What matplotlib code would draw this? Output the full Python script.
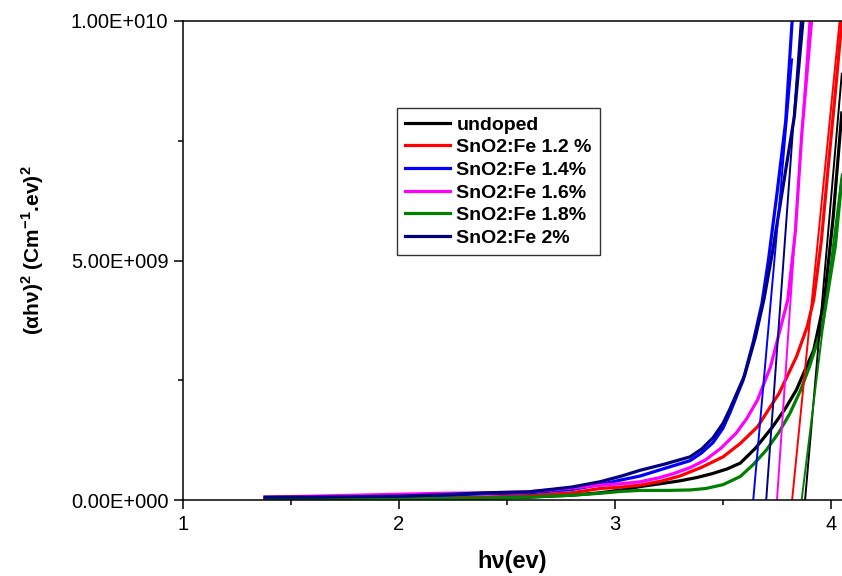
import numpy as np
import matplotlib
matplotlib.use("Agg")
import matplotlib.pyplot as plt
from matplotlib.ticker import MultipleLocator

plt.rcParams['font.family'] = ['Liberation Sans', 'DejaVu Sans']
plt.rcParams['mathtext.fontset'] = 'custom'
plt.rcParams['mathtext.rm'] = 'Liberation Sans:bold'
plt.rcParams['mathtext.bf'] = 'Liberation Sans:bold'

# (alpha h nu)^2 in units of 1e9
x_low = [1.38, 1.6, 1.8, 2.0, 2.2, 2.4, 2.6, 2.8, 2.93]

x_undoped = x_low + [3.03, 3.116, 3.21, 3.3, 3.38, 3.45, 3.52, 3.58, 3.65, 3.73, 3.79, 3.84, 3.92, 3.97, 4.01, 4.05]
y_undoped = [0.01, 0.01, 0.02, 0.02, 0.03, 0.04, 0.06, 0.10, 0.15,
             0.21, 0.28, 0.34, 0.40, 0.47, 0.55, 0.65, 0.77, 1.08, 1.53, 1.92, 2.30, 3.13, 4.18, 5.9, 8.08]

x_fe12 = x_low + [3.03, 3.116, 3.21, 3.3, 3.4, 3.5, 3.58, 3.66, 3.76, 3.84, 3.89, 3.92, 3.955, 3.986, 4.02, 4.05]
y_fe12 = [0.03, 0.03, 0.04, 0.04, 0.05, 0.06, 0.09, 0.15, 0.24,
          0.27, 0.31, 0.39, 0.50, 0.68, 0.90, 1.18, 1.53, 2.23, 2.99, 3.62, 4.18, 5.4, 6.9, 8.5, 10.0]

x_fe14 = x_low + [3.03, 3.116, 3.23, 3.347, 3.40, 3.454, 3.50, 3.532, 3.593, 3.64, 3.68, 3.71, 3.75, 3.79, 3.82]
y_fe14 = [0.05, 0.05, 0.06, 0.07, 0.10, 0.13, 0.15, 0.22, 0.32,
          0.42, 0.50, 0.66, 0.82, 0.98, 1.20, 1.50, 1.82, 2.50, 3.30, 4.10, 5.0, 6.4, 7.9, 10.0]

x_fe16 = x_low + [3.03, 3.116, 3.2, 3.27, 3.35, 3.42, 3.49, 3.56, 3.61, 3.66, 3.72, 3.76, 3.80, 3.835, 3.865, 3.91]
y_fe16 = [0.06, 0.08, 0.10, 0.12, 0.14, 0.15, 0.17, 0.25, 0.31,
          0.34, 0.38, 0.46, 0.55, 0.68, 0.84, 1.08, 1.39, 1.70, 2.09, 2.78, 3.48, 4.18, 5.6, 7.66, 10.0]

x_fe18 = x_low + [3.03, 3.116, 3.25, 3.35, 3.42, 3.50, 3.58, 3.64, 3.70, 3.76, 3.81, 3.86, 3.90, 3.96, 3.98, 4.02, 4.05]
y_fe18 = [0.00, 0.01, 0.01, 0.02, 0.03, 0.04, 0.06, 0.10, 0.14,
          0.18, 0.20, 0.20, 0.21, 0.24, 0.32, 0.49, 0.74, 1.04, 1.42, 1.81, 2.30, 2.78, 3.62, 4.18, 5.3, 6.68]

x_fe20 = x_low + [3.03, 3.116, 3.23, 3.347, 3.40, 3.454, 3.50, 3.532, 3.60, 3.65, 3.69, 3.73, 3.78, 3.83, 3.87]
y_fe20 = [0.06, 0.06, 0.07, 0.08, 0.11, 0.15, 0.17, 0.27, 0.38,
          0.50, 0.62, 0.75, 0.90, 1.06, 1.30, 1.60, 1.90, 2.60, 3.40, 4.20, 5.2, 6.6, 8.0, 10.0]

labels = ["undoped", "SnO2:Fe 1.2 %", "SnO2:Fe 1.4%", "SnO2:Fe 1.6%", "SnO2:Fe 1.8%", "SnO2:Fe 2%"]
colors = ["black", "#ff0000", "#0000ff", "#ff00ff", "#008000", "#000080"]
xs = [x_undoped, x_fe12, x_fe14, x_fe16, x_fe18, x_fe20]
ys = [y_undoped, y_fe12, y_fe14, y_fe16, y_fe18, y_fe20]

# linear fits (band gap extrapolation), same order as above
fit_x0 = [3.88, 3.82, 3.64, 3.75, 3.864, 3.70]
fit_x1 = [4.05, 4.04, 3.82, 3.90, 4.05, 3.86]
fit_y1 = [8.9, 10.0, 9.2, 10.0, 6.8, 10.0]

fig = plt.figure(figsize=(8.42, 5.76), dpi=100)
ax = fig.add_axes([183/842, 76/576, 659/842, 479/576])

for x, y, c, lab in zip(xs, ys, colors, labels):
    ax.plot(x, np.array(y) * 1e9, color=c, lw=2.3, label=lab, solid_joinstyle='round')

for x0, x1, y1, c in zip(fit_x0, fit_x1, fit_y1, colors):
    ax.plot([x0, x1], [0, y1 * 1e9], color=c, lw=1.4)

ax.set_xlim(1, 1 + 659/216)
ax.set_ylim(0, 1e10)

ax.set_xticks([1, 2, 3, 4])
ax.set_xticklabels(["1", "2", "3", "4"])
ax.xaxis.set_minor_locator(MultipleLocator(0.5))
ax.set_yticks([0, 5e9, 1e10])
ax.set_yticklabels(["0.00E+000", "5.00E+009", "1.00E+010"])
ax.yaxis.set_minor_locator(MultipleLocator(2.5e9))

ax.tick_params(which='major', direction='out', length=6.5, width=1.1, labelsize=14.5, pad=4)
ax.tick_params(which='minor', direction='out', length=3.5, width=1.1)
ax.tick_params(top=False, right=False)
for s in ['left', 'bottom', 'top']:
    ax.spines[s].set_linewidth(1.1)
ax.spines['right'].set_visible(False)

ax.set_xlabel("hν(ev)", fontsize=17, fontweight='bold', labelpad=12)
fig.text(33/842, 1 - 250/576, r"(αhν)$^{2}$ (Cm$^{-1}$.ev)$^{2}$",
         rotation=90, ha='center', va='center', fontsize=15, fontweight='bold')

leg = ax.legend(loc='upper left', bbox_to_anchor=(0.325, 0.818), borderaxespad=0,
                fancybox=False, edgecolor='#333333', framealpha=1,
                prop={'weight': 'bold', 'size': 14}, handlelength=2.3,
                handletextpad=0.35, labelspacing=0.26, borderpad=0.4)
leg.get_frame().set_linewidth(1.0)

fig.savefig("out.png", dpi=100)
